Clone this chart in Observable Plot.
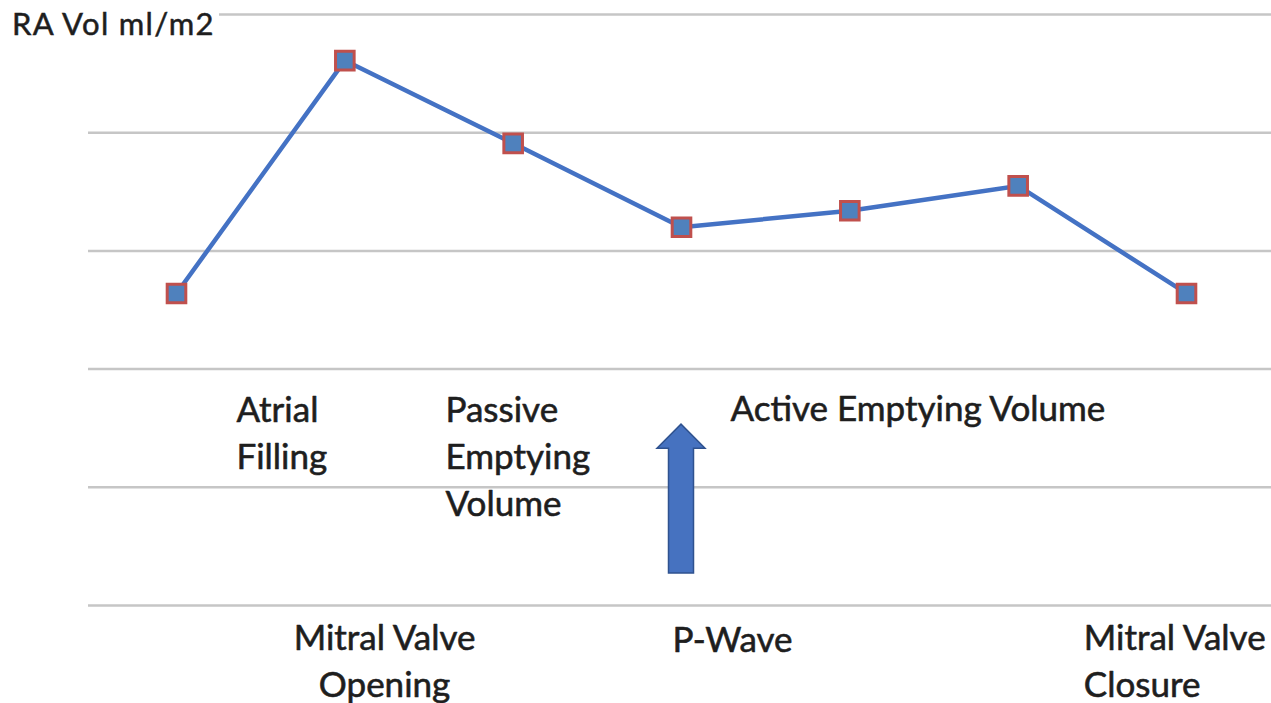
<!DOCTYPE html>
<html>
<head>
<meta charset="utf-8">
<script src="https://cdn.jsdelivr.net/npm/d3@7"></script>
<script src="https://cdn.jsdelivr.net/npm/@observablehq/plot@0.6"></script>
<style>
  html, body { margin: 0; padding: 0; background: #fff; }
  #wrap { position: relative; width: 1271px; height: 703px; overflow: hidden; }
  #title {
    position: absolute; left: 0; top: 0; padding: 8px 4px 6px 12px;
    background: #fff; font-family: Lato, sans-serif; font-size: 31px;
    color: #1e1e1e; letter-spacing: 1.3px; line-height: 1; z-index: 2;
    -webkit-text-stroke: 0.5px #1e1e1e;
  }
</style>
</head>
<body>
<div id="wrap">
  <div id="title">RA Vol ml/m2</div>
</div>
<script>
// Right atrial volume over the cardiac cycle (arbitrary units, grid step = 1)
const stageIndex = [0, 1, 2, 3, 4, 5, 6];
const raVolume = [2.64, 4.61, 3.91, 3.20, 3.34, 3.55, 2.64];
const gridTicks = [0, 1, 2, 3, 4, 5];

// Phase annotations (left-aligned, stage units / volume units)
const phaseLabels = ["Atrial\nFilling", "Passive\nEmptying\nVolume"];
const phaseX = [0.356, 1.598];
const phaseY = [1.832, 1.832];
const activeLabel = ["Active Emptying Volume"];
const activeX = [3.291];
const activeY = [1.84];

// Valve / ECG events under the grid
const openingLabel = ["Mitral Valve\nOpening"];
const openingX = [1.236];
const pWaveLabel = ["P-Wave"];
const pWaveX = [2.947];
const pWaveY = [-0.11];
const closureLabel = ["Mitral Valve\nClosure"];
const closureX = [5.39];
const eventY = [-0.097];

// Upward arrow marking the P-wave
const arrowX = [3];
const arrowFrom = [0.27];
const arrowTo = [1.53];

const points = stageIndex.map((s, i) => ({stage: s, volume: raVolume[i]}));
const phases = phaseLabels.map((t, i) => ({text: t, x: phaseX[i], y: phaseY[i]}));
const arrows = arrowX.map((x, i) => ({x, y1: arrowFrom[i], y2: arrowTo[i]}));

const font = "Lato, sans-serif";
const textColor = "#1e1e1e";
const label = {fontSize: 35, fill: textColor, stroke: textColor, strokeWidth: 0.6,
  fontFamily: font, lineAnchor: "top", lineHeight: 1.343};

// Filled block arrow: position from the scales, shape in pixels
function blockArrow(index, scales, values) {
  const g = d3.create("svg:g");
  for (const i of index) {
    const cx = values.x[i], yb = values.y1[i], yt = values.y2[i];
    const shaft = 12.5, head = 24, headLen = 24;
    const p = d3.path();
    p.moveTo(cx - shaft, yb);
    p.lineTo(cx - shaft, yt + headLen);
    p.lineTo(cx - head, yt + headLen);
    p.lineTo(cx, yt);
    p.lineTo(cx + head, yt + headLen);
    p.lineTo(cx + shaft, yt + headLen);
    p.lineTo(cx + shaft, yb);
    p.closePath();
    g.append("path").attr("d", p.toString())
      .attr("fill", "#4672C0").attr("stroke", "#2F528F").attr("stroke-width", 1.5);
  }
  return g.node();
}

const chart = Plot.plot({
  width: 1271,
  height: 703,
  marginLeft: 88,
  marginRight: 0,
  marginTop: 0,
  marginBottom: 0,
  style: {background: "#fff", fontFamily: font},
  x: {domain: [0, 6], range: [176, 1186], axis: null},
  y: {domain: [0, 5], range: [605, 14], axis: null},
  marks: [
    Plot.ruleY(gridTicks, {stroke: "#c6c6c6", strokeWidth: 2.5}),
    Plot.text(phases, {x: "x", y: "y", text: "text", textAnchor: "start", ...label}),
    Plot.text(activeLabel, {x: activeX, y: activeY, text: d => d, textAnchor: "start", ...label}),
    Plot.text(openingLabel, {x: openingX, y: eventY, text: d => d, textAnchor: "middle", ...label}),
    Plot.text(pWaveLabel, {x: pWaveX, y: pWaveY, text: d => d, textAnchor: "start", ...label}),
    Plot.text(closureLabel, {x: closureX, y: eventY, text: d => d, textAnchor: "start", ...label}),
    Plot.ruleX(arrows, {x: "x", y1: "y1", y2: "y2", render: blockArrow}),
    Plot.line(points, {x: "stage", y: "volume", stroke: "#4472C4", strokeWidth: 4.5}),
    Plot.dot(points, {
      x: "stage", y: "volume", symbol: "square", r: 10.5,
      fill: "#4F81BD", stroke: "#C0504D", strokeWidth: 3
    })
  ]
});

document.getElementById("wrap").appendChild(chart);
</script>
</body>
</html>
